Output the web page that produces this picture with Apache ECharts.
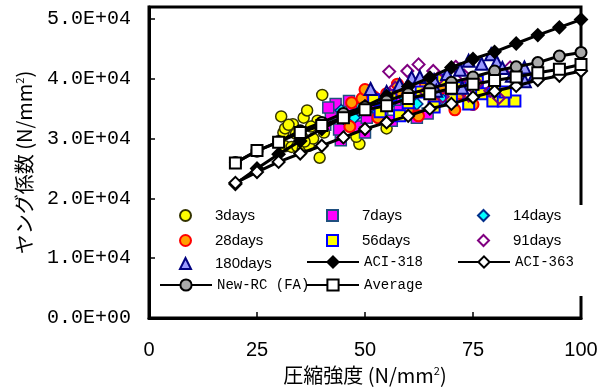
<!DOCTYPE html>
<html>
<head>
<meta charset="utf-8">
<script src="https://cdn.jsdelivr.net/npm/echarts@6.0.0/dist/echarts.min.js"></script>
<style>
  html, body { margin: 0; padding: 0; background: #fff; }
  #chart { width: 609px; height: 392px; }
</style>
</head>
<body>
<div id="chart"></div>
<script>
// axis ticks
const xTicks = [0, 25, 50, 75, 100];
const yTicks = [0, 10000, 20000, 30000, 40000, 50000];
const yTickLabels = ['0.0E+00', '1.0E+04', '2.0E+04', '3.0E+04', '4.0E+04', '5.0E+04'];

// measured points [strength, modulus]
const days3 = [[30.6,33700],[40.1,37300],[39.5,26800],[48.7,29100],[48,30300],[55,31700],[31.1,31000],[31.5,28700],[33,28600],[34.3,28700],[35.6,28300],[33.3,32400],[35.8,33500],[36.6,34700],[35.5,30200],[37,28800],[31.5,31700],[32.3,32300],[38,30000],[39,33000],[37.5,32000],[42,34500],[40.5,31000],[36,29500],[34,30800]];
const days7 = [[40.8,32300],[42.1,34100],[43.2,35800],[44.4,29700],[46.3,36300],[45,33000],[47,34800],[48.5,32000],[50.4,33500],[52,35500],[54,34000],[56.2,33000],[58,35000],[60.3,34300],[62,33500],[64.5,34200],[41.5,35200],[44,31500],[50,31000],[57,36500],[61,36800]];
const days14 = [[44.5,34700],[47.5,33500],[51,38000],[53,34500],[56,36000],[59,37000],[62,35800],[65,37500],[68,36500],[48.5,36000]];
const days28 = [[46.9,36000],[49.3,36700],[46.5,32000],[57.5,39100],[62.4,33800],[70.8,34800],[75,35700],[58,38000],[55,37500],[52,37000],[53,33500],[60,34800],[66,36000],[68,38500],[72,37500],[64,39000],[50,38200]];
const days56 = [[52,36500],[53.5,34500],[56,37200],[60,36000],[63,37800],[66,35300],[70,36500],[72,38500],[74,35800],[77,37500],[79.6,36300],[82,36300],[84.7,36300],[80,38000],[76,39500],[68,39800],[58,33800],[82.5,37800]];
const days91 = [[55.6,41200],[59.8,41300],[62.4,42400],[65.8,41300],[71,42000],[83.6,41900],[57,38500],[61,39500],[64,37800],[67,40000],[70,38800],[73,40500],[76,39200],[79,38000],[81,36800],[74,37200],[68,37000],[60,37500]];
const days180 = [[51.3,38300],[55,37800],[58,39000],[60.8,40200],[62.7,40300],[66,39800],[69,40800],[72,41500],[75,40000],[77,42500],[79.2,44100],[80.5,42800],[81.8,41800],[84,40500],[86.9,41900],[89.3,40700],[72.5,38500],[66.5,38000],[87,39600],[74,43000]];

// estimate curves
const curveX = [20, 25, 30, 35, 40, 45, 50, 55, 60, 65, 70, 75, 80, 85, 90, 95, 100];
const aci318 = [22400, 25000, 27400, 29600, 31600, 33500, 35400, 37100, 38700, 40200, 41900, 43300, 44500, 45900, 47300, 48600, 49900];
const aci363 = [22600, 24400, 26100, 27500, 28800, 30200, 31600, 32700, 33800, 35000, 35800, 36900, 37900, 38800, 39800, 40500, 41300];
const newRC = [26000, 27900, 29500, 31300, 32700, 34200, 35300, 36300, 37500, 38300, 39400, 40300, 41300, 42000, 42700, 43800, 44400];
const average = [25900, 28000, 29400, 31000, 32200, 33500, 34800, 35500, 36700, 37500, 38400, 39100, 39700, 40300, 41000, 41600, 42400];

const pair = (ys) => curveX.map((x, i) => [x, ys[i]]);

const chart = echarts.init(document.getElementById('chart'));

const scatter = (name, data, symbol, size, fill, border, bw) => ({
  name, type: 'scatter', data, symbol, symbolSize: size,
  itemStyle: { color: fill, borderColor: border, borderWidth: bw, opacity: 1 }
});
const curve = (name, data, symbol, size, fill) => ({
  name, type: 'line', data, symbol, symbolSize: size, showAllSymbol: true,
  lineStyle: { color: '#000', width: 3 },
  itemStyle: { color: fill, borderColor: '#000', borderWidth: 2 },
  z: 3
});

const series = [
  scatter('3days', days3, 'circle', 11, '#ffff00', '#333300', 1.5),
  scatter('7days', days7, 'rect', 11, '#ff00ff', '#1f4f7f', 1.5),
  scatter('14days', days14, 'diamond', 12, '#00ffff', '#002e8a', 1.5),
  scatter('28days', days28, 'circle', 11, '#ffa000', '#ff0000', 2),
  scatter('56days', days56, 'rect', 11, '#ffff00', '#0000ff', 2),
  scatter('91days', days91, 'diamond', 12, 'rgba(255,255,255,0)', '#800080', 2),
  scatter('180days', days180, 'triangle', 12, '#9a9aff', '#000080', 2),
  curve('ACI-318', pair(aci318), 'diamond', 12, '#000'),
  curve('ACI-363', pair(aci363), 'diamond', 12, '#fff'),
  curve('New-RC (FA)', pair(newRC), 'circle', 11, '#aaaaaa'),
  curve('Average', pair(average), 'rect', 11, '#fff')
];

// legend slots: name, icon centre x, row top, line item?
const legendSlots = [
  ['3days', 185, 208, false], ['7days', 332, 208, false], ['14days', 483, 208, false],
  ['28days', 185, 233, false], ['56days', 332, 233, false], ['91days', 483, 233, false],
  ['180days', 185, 256, false], ['ACI-318', 332, 256, true], ['ACI-363', 483, 256, true],
  ['New-RC (FA)', 185, 279, true], ['Average', 332, 279, true]
];
const legends = legendSlots.map(([name, cx, top, isLine]) => isLine ? {
  data: [name], left: cx - 26, top: top - 1, padding: 0, z: 5,
  itemWidth: 52, itemHeight: 14, itemGap: 0, selectedMode: false,
  textStyle: { fontFamily: 'Liberation Mono', fontSize: 14, color: '#000' }
} : {
  data: [name], left: cx - 6, top, padding: 0, z: 5,
  itemWidth: 11, itemHeight: 11, itemGap: 0, selectedMode: false,
  textStyle: { fontFamily: 'Liberation Sans', fontSize: 15, color: '#000', padding: [0, 0, 0, 19] }
});

const option = {
  animation: false,
  backgroundColor: '#fff',
  grid: { left: 149, right: 28, top: 7, bottom: 74, show: true, borderColor: '#000', borderWidth: 3 },
  legend: legends,
  graphic: [{
    type: 'rect', z: 3, silent: true,
    shape: { x: 156, y: 205, width: 440, height: 91 },
    style: { fill: '#fff' }
  }],
  xAxis: {
    type: 'value', min: 0, max: 100, interval: 25,
    name: '圧縮強度 (N/mm{sup|2})', nameLocation: 'middle', nameGap: 45,
    nameTextStyle: {
      fontFamily: 'Noto Sans CJK JP', fontSize: 20, color: '#000',
      rich: { sup: { fontFamily: 'Noto Sans CJK JP', fontSize: 11, verticalAlign: 'top', padding: [0, 0, 10, 0] } }
    },
    axisLine: { lineStyle: { color: '#000', width: 3 } },
    axisTick: { inside: true, length: 6, lineStyle: { color: '#000', width: 1.5 } },
    axisLabel: { customValues: xTicks, margin: 22, fontFamily: 'Liberation Sans', fontSize: 20, color: '#000' },
    splitLine: { show: false }
  },
  yAxis: {
    type: 'value', min: 0, max: 52000,
    name: 'ヤング係数 (N/mm{sup|2})', nameLocation: 'middle', nameGap: 114,
    nameTextStyle: {
      fontFamily: 'Noto Sans CJK JP', fontSize: 20, color: '#000',
      rich: { sup: { fontFamily: 'Noto Sans CJK JP', fontSize: 11, verticalAlign: 'top', padding: [0, 0, 10, 0] } }
    },
    axisLine: { lineStyle: { color: '#000', width: 3 } },
    axisTick: { inside: true, length: 6, customValues: yTicks, lineStyle: { color: '#000', width: 1.5 } },
    axisLabel: {
      customValues: yTicks, margin: 18,
      formatter: (v) => yTickLabels[yTicks.indexOf(v)],
      fontFamily: 'Liberation Mono', fontSize: 20, color: '#000'
    },
    splitLine: { show: false }
  },
  series
};

chart.setOption(option);
</script>
</body>
</html>
